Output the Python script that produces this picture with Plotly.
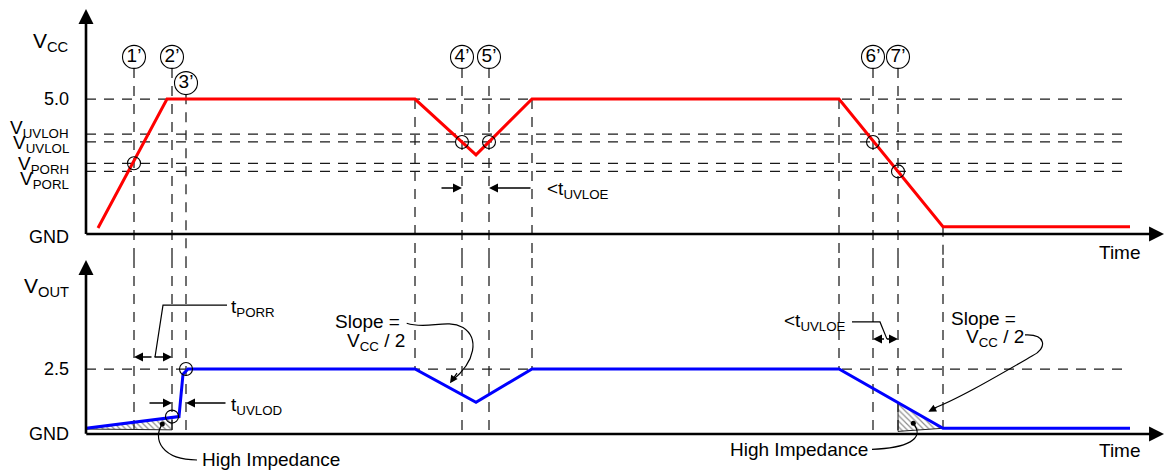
import plotly.graph_objects as go

FONT = "Liberation Sans, Arial, sans-serif"

# ---------------- data (time in arbitrary units, volts) ----------------
vcc_t = [1.2, 8.1, 32.9, 39.0, 44.6, 75.3, 85.7, 104.4]
vcc_v = [0.22, 5.0, 5.0, 2.93, 5.0, 5.0, 0.27, 0.27]

vout_t = [0.0, 9.3, 9.7, 10.2, 32.9, 39.0, 44.6, 75.3, 85.7, 104.4]
vout_v = [0.22, 0.67, 2.3, 2.5, 2.5, 1.22, 2.5, 2.5, 0.22, 0.22]

vcc_levels = [5.0, 3.70, 3.41, 2.62, 2.32]
vcc_level_labels = ["5.0", "V<sub>UVLOH</sub>", "V<sub>UVLOL</sub>",
                    "V<sub>PORH</sub>", "V<sub>PORL</sub>"]
vout_levels = [2.5]
vout_level_labels = ["2.5"]

event_t = [4.8, 8.6, 10.0, 37.6, 40.3, 78.7, 81.2]
event_labels = ["1’", "2’", "3’", "4’", "5’", "6’", "7’"]

vcc_cross_t = [4.8, 37.6, 40.3, 78.7, 81.2]
vcc_cross_v = [2.62, 3.41, 3.41, 3.41, 2.32]
vout_cross_t = [8.6, 10.0]
vout_cross_v = [0.67, 2.5]

ramp_t = [32.9, 44.6, 75.3, 85.7]        # corners of the VCC ramps
ramp_top_v = [5.0, 5.0, 5.0, 0.27]
ramp_bot_v = [2.5, 2.5, 2.5, 0.22]

hiz1_t = [0.0, 8.6, 8.6, 0.0]
hiz1_v = [0.19, 0.63, 0.16, 0.19]
hiz2_t = [81.2, 85.7, 81.2, 81.2]
hiz2_v = [1.21, 0.22, 0.1, 1.21]

# ---------------- layout constants ----------------
X_RANGE = [-8.6, 107.8]
Y1_RANGE = [-0.889, 8.667]
Y2_RANGE = [-1.385, 6.769]
SPLIT = 0.451
H_END = 103.7
LABEL_Y = [6.56, 6.56, 5.59, 6.56, 6.56, 6.56, 6.56]
LABEL_R = 0.41

DASH = "10px,8px"
GRID = dict(color="#1a1a1a", width=1.25, dash=DASH)

T1 = dict(xaxis="x", yaxis="y")
T2 = dict(xaxis="x2", yaxis="y2")

fig = go.Figure()

def seg_trace(xs, ys, line, ax):
    fig.add_trace(go.Scatter(x=xs, y=ys, mode="lines", line=line,
                             hoverinfo="skip", showlegend=False, **ax))

# --- top panel: horizontal threshold guides
hx, hy = [], []
for v in vcc_levels:
    hx += [0, H_END, None]
    hy += [v, v, None]
seg_trace(hx, hy, GRID, T1)

# --- vertical guides (top + bottom)
vx1, vy1, vx2, vy2 = [], [], [], []
for t, ly in zip(event_t, LABEL_Y):
    vx1 += [t, t, None]; vy1 += [ly - LABEL_R, Y1_RANGE[0], None]
    vx2 += [t, t, None]; vy2 += [Y2_RANGE[1], 0, None]
for t, a, b in zip(ramp_t, ramp_top_v, ramp_bot_v):
    vx1 += [t, t, None]; vy1 += [a, Y1_RANGE[0], None]
    vx2 += [t, t, None]; vy2 += [Y2_RANGE[1], b, None]
seg_trace(vx1, vy1, GRID, T1)
seg_trace(vx2, vy2, GRID, T2)

# bottom horizontal guide
bx, by = [], []
for v in vout_levels:
    bx += [0, H_END, None]
    by += [v, v, None]
seg_trace(bx, by, GRID, T2)

# --- hatched high-impedance regions
for tt, vv in [(hiz1_t, hiz1_v), (hiz2_t, hiz2_v)]:
    fig.add_trace(go.Scatter(
        x=tt, y=vv, mode="lines", fill="toself",
        line=dict(color="#222222", width=1.0),
        fillcolor="rgba(255,255,255,0)",
        fillpattern=dict(shape="\\", size=4, solidity=0.3,
                         fgcolor="#222222", bgcolor="rgba(255,255,255,0)"),
        hoverinfo="skip", showlegend=False, **T2))

# --- main signals
seg_trace(vcc_t, vcc_v, dict(color="#FF0000", width=3), T1)
seg_trace(vout_t, vout_v, dict(color="#0000FF", width=3), T2)

# --- crossing circles
fig.add_trace(go.Scatter(x=vcc_cross_t, y=vcc_cross_v, mode="markers",
                         marker=dict(symbol="circle-open", size=13,
                                     line=dict(color="black", width=1.1), color="black"),
                         hoverinfo="skip", showlegend=False, **T1))
fig.add_trace(go.Scatter(x=vout_cross_t, y=vout_cross_v, mode="markers",
                         marker=dict(symbol="circle-open", size=13,
                                     line=dict(color="black", width=1.1), color="black"),
                         hoverinfo="skip", showlegend=False, **T2))

# --- event number circles
fig.add_trace(go.Scatter(x=event_t, y=LABEL_Y, mode="markers+text",
                         text=event_labels, textposition="middle center",
                         textfont=dict(family=FONT, size=19, color="black"),
                         marker=dict(symbol="circle-open", size=23,
                                     line=dict(color="black", width=1.1), color="black"),
                         cliponaxis=False,
                         hoverinfo="skip", showlegend=False, **T1))

# --- leader lines
LEAD = dict(color="black", width=1.2)
seg_trace([14.1, 7.7, 6.9], [4.96, 4.96, 2.96], LEAD, T2)
seg_trace([76.6, 79.4, 80.1], [4.31, 4.31, 3.65], LEAD, T2)
fig.add_trace(go.Scatter(x=[7.63, 82.73], y=[0.38, 0.41], mode="markers",
                         marker=dict(color="black", size=5),
                         hoverinfo="skip", showlegend=False, **T2))

shapes = [
    dict(type="path", xref="x2", yref="y2", line=LEAD,
         path="M 32.07,4.26 C 34.2,4.0 36.0,4.45 37.7,4.1 C 39.3,3.7 39.0,2.8 36.6,2.05"),
    dict(type="path", xref="x2", yref="y2", line=LEAD,
         path="M 93.9,3.81 C 96.0,3.85 96.2,3.3 94.6,3.0 C 91.0,2.2 87.0,1.3 84.5,0.95"),
    dict(type="path", xref="x2", yref="y2", line=LEAD,
         path="M 7.63,0.38 C 6.6,-0.2 7.6,-1.0 11.1,-1.0"),
    dict(type="path", xref="x2", yref="y2", line=LEAD,
         path="M 78.6,-0.59 C 82.0,-0.55 84.0,-0.2 82.73,0.41"),
]

annotations = []

def arrow(x, y, ax, ay, ref="", width=1.5, head=2, size=1.2):
    annotations.append(dict(x=x, y=y, ax=ax, ay=ay,
                            xref="x" + ref, yref="y" + ref,
                            axref="x" + ref, ayref="y" + ref,
                            text="", showarrow=True, arrowhead=head,
                            arrowsize=size, arrowwidth=width,
                            arrowcolor="black", standoff=0, startstandoff=0))

def label(x, y, text, ref="", xanchor="center", size=19):
    annotations.append(dict(x=x, y=y, xref="x" + ref, yref="y" + ref,
                            text=text, showarrow=False, xanchor=xanchor,
                            yanchor="middle",
                            font=dict(family=FONT, size=size, color="black")))

# axes with arrow heads
arrow(107.8, 0, -0.12, 0, "", width=2.6, size=1.15)
arrow(0, 8.33, 0, -0.05, "", width=2.6, size=1.15)
arrow(107.8, 0, -0.12, 0, "2", width=2.6, size=1.15)
arrow(0, 6.69, 0, -0.05, "2", width=2.6, size=1.15)

# dimension arrows
arrow(37.6, 1.70, 35.4, 1.70)
arrow(40.3, 1.70, 44.6, 1.70)
arrow(4.8, 2.96, 6.7, 2.96, "2")
arrow(8.6, 2.96, 6.7, 2.96, "2")
arrow(8.6, 1.19, 6.2, 1.19, "2")
arrow(10.0, 1.19, 14.1, 1.19, "2")
arrow(78.7, 3.65, 79.95, 3.65, "2")
arrow(81.2, 3.65, 79.95, 3.65, "2")
arrow(36.4, 1.95, 37.2, 2.4, "2", width=1.2, size=1.3)
arrow(84.23, 0.86, 85.2, 1.05, "2", width=1.2, size=1.3)

# left axis labels
label(-1.5, 7.11, "V<sub>CC</sub>", "", "right", 21)
lab_y = [5.0, 3.89, 3.33, 2.56, 2.0]
for txt, yy in zip(vcc_level_labels, lab_y):
    label(-1.5, yy, txt, "", "right", 18 if txt == "5.0" else 19)
label(-1.5, -0.11, "GND", "", "right", 18)
label(-1.5, 5.65, "V<sub>OUT</sub>", "2", "right", 21)
for txt, v in zip(vout_level_labels, vout_levels):
    label(-1.5, v, txt, "2", "right", 18)
label(-1.5, 0.0, "GND", "2", "right", 18)
label(103.4, -0.67, "Time", "", "center", 19)
label(103.4, -0.62, "Time", "2", "center", 19)

# callouts
label(45.9, 1.63, "&lt;t<sub>UVLOE</sub>", "", "left", 19)
label(14.3, 4.85, "t<sub>PORR</sub>", "2", "left", 19)
label(14.3, 1.08, "t<sub>UVLOD</sub>", "2", "left", 19)
label(76.2, 4.31, "&lt;t<sub>UVLOE</sub>", "2", "right", 19)
label(28.1, 4.31, "Slope =", "2", "center", 19)
label(29.0, 3.54, "V<sub>CC</sub> / 2", "2", "center", 19)
label(89.7, 4.46, "Slope =", "2", "center", 19)
label(90.9, 3.69, "V<sub>CC</sub> / 2", "2", "center", 19)
label(11.4, -1.0, "High Impedance", "2", "left", 19)
label(78.4, -0.58, "High Impedance", "2", "right", 19)

fig.update_layout(
    width=1164, height=470, autosize=False,
    margin=dict(l=0, r=0, t=0, b=0),
    paper_bgcolor="white", plot_bgcolor="white",
    showlegend=False,
    xaxis=dict(domain=[0, 1], range=X_RANGE, visible=False, anchor="y"),
    yaxis=dict(domain=[SPLIT, 1], range=Y1_RANGE, visible=False, anchor="x"),
    xaxis2=dict(domain=[0, 1], range=X_RANGE, visible=False, anchor="y2"),
    yaxis2=dict(domain=[0, SPLIT], range=Y2_RANGE, visible=False, anchor="x2"),
    shapes=shapes,
    annotations=annotations,
    font=dict(family=FONT, color="black"),
)

fig.write_html("out.html",
               config={"displayModeBar": False},
               post_script="document.body.style.margin='0px';"
                           "document.body.style.overflow='hidden';")
